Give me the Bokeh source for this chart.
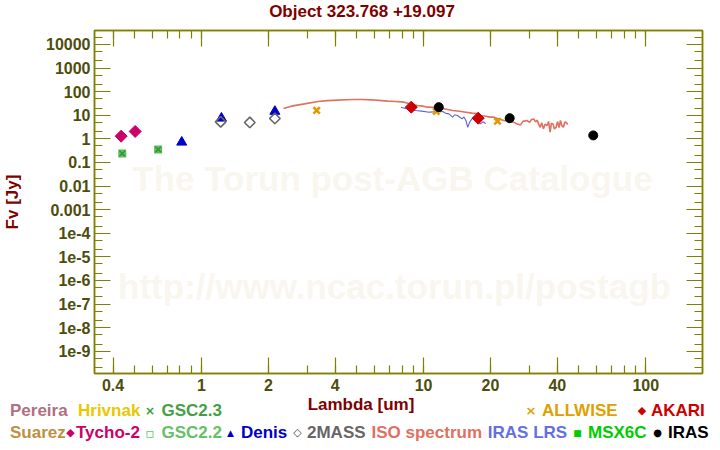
from math import pi
from bokeh.plotting import figure
from bokeh.models import FixedTicker, LogAxis, Label, Div
from bokeh.layouts import column
from bokeh.embed import file_html
from bokeh.resources import INLINE

# ---------------- data ----------------
tycho_lam = [0.435, 0.503]
tycho_f = [1.3, 2.06]
gsc_lam = [0.44, 0.638]
gsc_f = [0.24, 0.356]
denis_lam = [0.815, 1.23, 2.14]
denis_f = [0.72, 7.5, 14.5]
tmass_lam = [1.22, 1.65, 2.14]
tmass_f = [5.25, 4.95, 7.3]
allwise_lam = [3.3, 11.4, 21.5]
allwise_f = [16.0, 14.5, 5.6]
akari_lam = [8.8, 17.6]
akari_f = [22.0, 7.5]
iras_lam = [11.7, 24.4, 58.0]
iras_f = [22.0, 7.5, 1.4]

iso_lam = [2.34, 2.54, 2.91, 3.34, 3.7, 4.11, 4.5, 4.88, 5.3, 5.8, 6.3, 6.89, 7.5,
           8.18, 8.6, 9.39, 9.9, 10.4, 11.0, 11.7, 12.5, 13.5, 14.5, 15.5, 16.5,
           17.7, 18.0, 19.0, 20.0, 20.7, 21.8, 23.0, 24.0, 25.4, 26.2, 27.3, 28.0,
           29.2, 30.0, 30.6, 31.3, 31.9, 32.5, 33.0, 33.5, 34.0, 34.6, 35.2, 36.0,
           36.5, 37.1, 37.6, 38.2, 38.8, 39.5, 40.1, 40.7, 41.3, 41.9, 42.6, 43.2,
           44.0, 44.5]
iso_f = [19.4, 24.3, 30.4, 38.4, 41.5, 43.6, 45.5, 46.7, 46.5, 45.0, 42.5, 39.6, 38.0,
         35.9, 30.4, 26.0, 24.3, 22.0, 21.5, 20.5, 18.5, 16.0, 14.8, 13.5, 12.3,
         11.4, 9.8, 9.0, 8.3, 8.3, 7.0, 6.0, 5.6, 5.1, 4.4, 3.9, 5.5,
         6.0, 5.0, 6.6, 7.0, 5.2, 6.2, 4.0, 3.1, 4.8, 2.65, 4.2, 3.7,
         5.5, 1.92, 4.6, 4.3, 2.6, 3.2, 5.4, 3.0, 6.0, 3.6, 3.1, 5.2,
         4.8, 4.0]

lrs_lam = [7.9, 8.5, 9.2, 9.8, 10.6, 11.4, 12.2, 12.6, 13.0, 13.5, 13.8, 14.2, 14.6,
           14.9, 15.2, 15.5, 15.8, 16.1, 16.3, 16.8, 17.1, 17.6, 18.0, 18.4, 18.7, 19.0]
lrs_f = [22.0, 18.0, 16.0, 15.0, 13.5, 14.0, 14.5, 12.0, 11.4, 8.3, 10.5, 9.8, 8.0,
         7.0, 8.5, 6.0, 3.1, 5.0, 6.0, 8.3, 7.0, 5.5, 4.3, 5.1, 5.1, 4.3]

x_major = [0.4, 1, 2, 4, 10, 20, 40, 100]
x_labels = ["0.4", "1", "2", "4", "10", "20", "40", "100"]
y_major = [1e-9, 1e-8, 1e-7, 1e-6, 1e-5, 1e-4, 1e-3, 1e-2, 1e-1, 1, 10, 100, 1000, 10000]
y_labels = ["1e-9", "1e-8", "1e-7", "1e-6", "1e-5", "1e-4", "0.001", "0.01", "0.1",
            "1", "10", "100", "1000", "10000"]

x_minor = [m * d for d in (0.1, 1, 10, 100) for m in range(1, 10)]
y_minor = [m * 10.0 ** e for e in range(-10, 5) for m in (2, 5)]

OLIVE = "#808000"
TICKLAB = "#4d4d0d"
DARKRED = "#7f0000"
FONT = "Liberation Sans"
SYM = "DejaVu Sans"
TITLE_H = 22          # title strip height
MAIN_H = 376          # plot height
LEG_H = 450 - TITLE_H - MAIN_H
FRAME_TOP, FRAME_BOTTOM = 30, 373

p = figure(width=720, height=MAIN_H, x_axis_type="log", y_axis_type="log",
           x_range=(0.33, 180), y_range=(10 ** -9.94, 10 ** 4.59),
           output_backend="svg", toolbar_location=None,
           min_border_left=93, min_border_right=18,
           min_border_top=FRAME_TOP - TITLE_H,
           min_border_bottom=TITLE_H + MAIN_H - FRAME_BOTTOM)
p.grid.visible = False
p.outline_line_color = OLIVE
p.outline_line_width = 1.5
p.background_fill_color = "white"
p.border_fill_color = "white"


def style_axis(ax, ticks, minor, labels, show):
    ax.ticker = FixedTicker(ticks=ticks, minor_ticks=minor)
    ax.axis_line_color = OLIVE
    ax.axis_line_width = 1.5
    ax.major_tick_line_color = OLIVE
    ax.minor_tick_line_color = OLIVE
    ax.major_tick_line_width = 1.2
    ax.minor_tick_line_width = 1.2
    ax.major_tick_in = 16
    ax.major_tick_out = 0
    ax.minor_tick_in = 8
    ax.minor_tick_out = 0
    if show:
        ax.major_label_overrides = {t: l for t, l in zip(ticks, labels)}
        ax.major_label_text_font = FONT
        ax.major_label_text_font_style = "bold"
        ax.major_label_text_font_size = "16px"
        ax.major_label_text_color = TICKLAB
    else:
        ax.major_label_overrides = {t: "" for t in ticks}
        ax.major_label_text_font_size = "1px"
        ax.major_label_standoff = 0


style_axis(p.xaxis[0], x_major, x_minor, x_labels, True)
p.xaxis[0].major_label_standoff = 5
style_axis(p.yaxis[0], y_major, y_minor, y_labels, True)
p.yaxis[0].major_label_standoff = 4
p.yaxis[0].axis_label = "Fv [Jy]"
p.yaxis[0].axis_label_text_font = FONT
p.yaxis[0].axis_label_text_font_style = "bold"
p.yaxis[0].axis_label_text_font_size = "17px"
p.yaxis[0].axis_label_text_color = DARKRED
p.yaxis[0].axis_label_standoff = 21

top = LogAxis()
style_axis(top, x_major, x_minor, x_labels, False)
p.add_layout(top, "above")
right = LogAxis()
style_axis(right, y_major, y_minor, y_labels, False)
p.add_layout(right, "right")

# watermark
for txt, x, y in [("The Torun post-AGB Catalogue", 298, 195),
                  ("http://www.ncac.torun.pl/postagb", 300, 87)]:
    p.add_layout(Label(x=x, y=y, x_units="screen", y_units="screen", text=txt,
                       text_font=FONT, text_font_style="bold", text_font_size="35px",
                       text_color="#f9f6f0", text_align="center", text_baseline="alphabetic",
                       level="underlay"))

# spectra
p.line(iso_lam, iso_f, line_color="#e07060", line_width=1.6)
p.line(lrs_lam, lrs_f, line_color="#5a66dc", line_width=1.1)

# photometry
DIA = pi / 4
p.scatter(gsc_lam, gsc_f, marker="square", size=8, fill_color="#5cbf5c", line_color=None)
p.scatter(gsc_lam, gsc_f, marker="x", size=8, line_color="#2f8f2f", line_width=1.2)
p.scatter(tycho_lam, tycho_f, marker="square", angle=DIA, size=8.5, fill_color="#cc0066", line_color="#cc0066")
p.scatter(denis_lam, denis_f, marker="triangle", size=10, fill_color="#0000cc", line_color="#0000cc")
p.scatter(tmass_lam, tmass_f, marker="square", angle=DIA, size=7.5, fill_color=None, line_color="#666666", line_width=1.6)
p.scatter(allwise_lam, allwise_f, marker="x", size=9, line_color="#e09a00", line_width=2.5)
p.scatter(akari_lam, akari_f, marker="square", angle=DIA, size=8.5, fill_color="#cc0000", line_color="#cc0000")
p.scatter(iras_lam, iras_f, marker="circle", size=9, fill_color="black", line_color="black")


# ---------------- title strip, axis title + legend strip ----------------
def span(text, x, y_top_of_strip, y, color, size="17px", align="left", font=FONT):
    # x, y in page pixels from the picture's top-left; y is the text's vertical centre
    shift = "transform:translateX(-50%);" if align == "center" else ""
    return (f'<span style="position:absolute;left:{x}px;top:{y - y_top_of_strip - 10}px;height:20px;'
            f'line-height:20px;white-space:nowrap;color:{color};font-size:{size};'
            f"font-family:'{font}';font-weight:bold;{shift}\">{text}</span>")


def strip(spans, h):
    return Div(text=f'<div style="position:relative;width:720px;height:{h}px;background:white;">'
                    + "".join(spans) + "</div>", width=720, height=h, margin=0)


title_div = strip([span("Object 323.768 +19.097", 362, 0, 12, DARKRED, align="center")], TITLE_H)

Y0 = TITLE_H + MAIN_H
leg = []


def lab(text, x, y, color, size="17px", align="left", font=FONT):
    leg.append(span(text, x, Y0, y, color, size, align, font))


lab("Lambda [um]", 361, 405, DARKRED, align="center")

R1, R2 = 411, 433
lab("Pereira", 10, R1, "#b07080")
lab("Hrivnak", 78, R1, "#e8c800")
lab("\u00d7", 150, R1, "#3a9a3a", size="12px", align="center", font=SYM)
lab("GSC2.3", 161.5, R1, "#44a044")
lab("\u00d7", 531, R1, "#e0a000", size="13px", align="center", font=SYM)
lab("ALLWISE", 542, R1, "#e0a000")
lab("\u25c6", 642, R1, "#cc0000", size="11px", align="center", font=SYM)
lab("AKARI", 651, R1, "#cc0000")

lab("Suarez", 10, R2, "#c08f40")
lab("\u25c6", 70.5, R2, "#cc0066", size="11px", align="center", font=SYM)
lab("Tycho-2", 76, R2, "#cc0066")
lab("\u25ab", 150, R2, "#66cc66", size="14px", align="center", font=SYM)
lab("GSC2.2", 161.5, R2, "#66c066")
lab("\u25b2", 230.5, R2, "#0000cc", size="9px", align="center", font=SYM)
lab("Denis", 241, R2, "#0000cc")
lab("\u25c7", 297.5, R2, "#444444", size="11px", align="center", font=SYM)
lab("2MASS", 307, R2, "#666666")
lab("ISO spectrum", 371.5, R2, "#e07060")
lab("IRAS LRS", 487.8, R2, "#6470e0")
lab("\u25a0", 577.5, R2, "#00cc00", size="9px", align="center", font=SYM)
lab("MSX6C", 588, R2, "#00cc00")
lab("\u25cf", 657.5, R2, "#000000", size="10px", align="center", font=SYM)
lab("IRAS", 668, R2, "#000000")

legend_div = strip(leg, LEG_H)

layout = column(title_div, p, legend_div, spacing=0)
open("out.html", "w").write(file_html(layout, INLINE))
